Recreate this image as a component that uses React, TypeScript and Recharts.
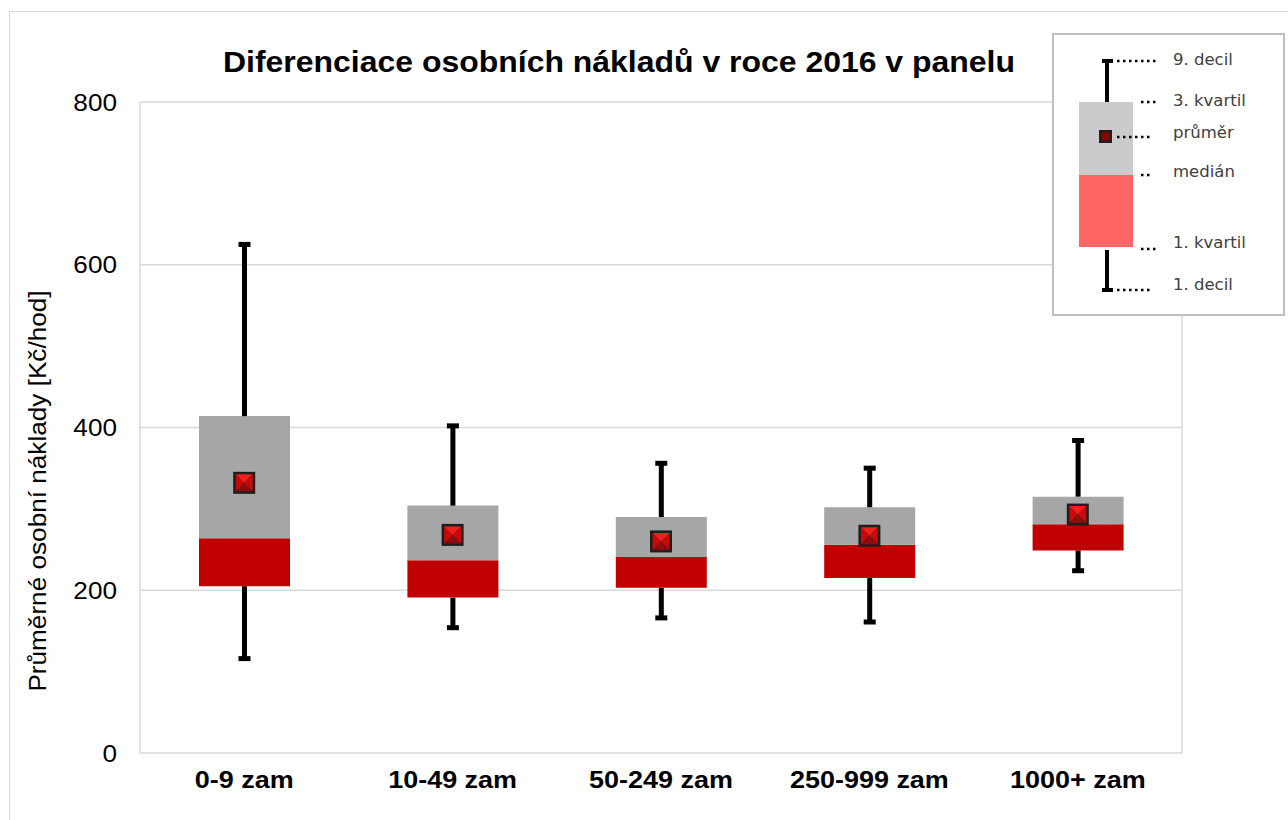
import React from "react";
import { ComposedChart, Bar, Scatter, XAxis, YAxis, CartesianGrid } from "recharts";

const categories = ["0-9 zam", "10-49 zam", "50-249 zam", "250-999 zam", "1000+ zam"];
const decil1 = [116, 154, 166, 161, 224];
const kvartil1 = [205, 191, 203, 215, 249];
const median = [264, 237, 241, 256, 281];
const kvartil3 = [414, 304, 290, 302, 315];
const decil9 = [625, 402, 356, 350, 384];
const mean = [332, 268, 260, 267, 293];
const yTicks = [0, 200, 400, 600, 800];

const FONT = '"Liberation Sans", Arial, sans-serif';
const LEGEND_FONT = '"DejaVu Sans", sans-serif';

// stacked segments: base -> lower whisker -> red box -> grey box -> upper whisker
const data = categories.map((name, i) => ({
  name,
  base: decil1[i],
  lowW: kvartil1[i] - decil1[i],
  lowBox: median[i] - kvartil1[i],
  highBox: kvartil3[i] - median[i],
  highW: decil9[i] - kvartil3[i],
  mean: mean[i],
}));

const UpperWhisker = (p: any) => {
  const cx = p.x + p.width / 2;
  return (
    <g>
      <rect x={cx - 2.5} y={p.y} width={5} height={p.height} fill="#000" />
      <rect x={cx - 6} y={p.y - 2.5} width={12} height={5} fill="#000" />
    </g>
  );
};

const LowerWhisker = (p: any) => {
  const cx = p.x + p.width / 2;
  return (
    <g>
      <rect x={cx - 2.5} y={p.y} width={5} height={p.height} fill="#000" />
      <rect x={cx - 6} y={p.y + p.height - 2.5} width={12} height={5} fill="#000" />
    </g>
  );
};

const MeanMarker = (p: any) => {
  const { cx, cy } = p;
  const s = 8.5;
  return (
    <g>
      <rect x={cx - 11} y={cy - 11} width={22} height={22} fill="#1e1e1e" />
      <polygon points={`${cx - s},${cy - s} ${cx + s},${cy - s} ${cx},${cy}`} fill="#f0201c" />
      <polygon points={`${cx - s},${cy - s} ${cx},${cy} ${cx - s},${cy + s}`} fill="#c80a0a" />
      <polygon points={`${cx + s},${cy - s} ${cx},${cy} ${cx + s},${cy + s}`} fill="#c80a0a" />
      <polygon points={`${cx - s},${cy + s} ${cx + s},${cy + s} ${cx},${cy}`} fill="#8e0c0c" />
    </g>
  );
};

const XTick = (p: any) => (
  <g transform={`translate(${p.x},${p.y})`}>
    <text transform="scale(1.1,1)" textAnchor="middle" dy="0.71em" fontSize={24.5} fontWeight="bold" fill="#000" fontFamily={FONT}>
      {p.payload.value}
    </text>
  </g>
);

const YTick = (p: any) => (
  <g transform={`translate(${p.x},${p.y})`}>
    <text transform="scale(1.09,1)" textAnchor="end" dy="0.355em" fontSize={24} fill="#000" fontFamily={FONT}>
      {p.payload.value}
    </text>
  </g>
);

const legendRows = [
  { label: "9. decil", y: 65, dotY: 61, x1: 1117, x2: 1158 },
  { label: "3. kvartil", y: 106, dotY: 102, x1: 1141, x2: 1157 },
  { label: "průměr", y: 138, dotY: 137, x1: 1117, x2: 1152 },
  { label: "medián", y: 177, dotY: 175, x1: 1141, x2: 1152 },
  { label: "1. kvartil", y: 248, dotY: 249, x1: 1141, x2: 1156 },
  { label: "1. decil", y: 290, dotY: 290, x1: 1117, x2: 1152 },
];

export default function App() {
  return (
    <div style={{ position: "absolute", left: 0, top: 0, width: 1288, height: 820, overflow: "hidden", background: "#fff" }}>
      <div style={{ position: "absolute", left: 9, top: 11, width: 1400, height: 1000, border: "1px solid #d9d9d9" }} />
      <div style={{ position: "absolute", left: 0, top: 0 }}>
        <ComposedChart width={1288} height={820} data={data} margin={{ top: 102, right: 106, bottom: 27, left: 0 }}>
          <CartesianGrid
            stroke="#d9d9d9"
            strokeWidth={1.5}
            verticalCoordinatesGenerator={(args: any) => (args && args.offset ? [args.offset.left, args.offset.left + args.offset.width] : [])}
          />
          <XAxis dataKey="name" axisLine={false} tickLine={false} tickSize={0} tickMargin={18} height={40} tick={<XTick />} interval={0} />
          <YAxis
            domain={[0, 800]}
            ticks={yTicks}
            width={140}
            axisLine={false}
            tickLine={false}
            tickSize={0}
            tickMargin={23}
            tick={<YTick />}
          />
          <Bar dataKey="base" stackId="a" barSize={91} fill="#fff" fillOpacity={0} isAnimationActive={false} />
          <Bar dataKey="lowW" stackId="a" barSize={91} shape={LowerWhisker} isAnimationActive={false} />
          <Bar dataKey="lowBox" stackId="a" barSize={91} fill="#c00000" isAnimationActive={false} />
          <Bar dataKey="highBox" stackId="a" barSize={91} fill="#a6a6a6" isAnimationActive={false} />
          <Bar dataKey="highW" stackId="a" barSize={91} shape={UpperWhisker} isAnimationActive={false} />
          <Scatter dataKey="mean" shape={MeanMarker} isAnimationActive={false} />
        </ComposedChart>
      </div>
      <svg width={1288} height={820} style={{ position: "absolute", left: 0, top: 0, pointerEvents: "none" }}>
        <text x={619} y={72} textAnchor="middle" fontSize={30} fontWeight="bold" fontFamily={FONT} fill="#000" textLength={792} lengthAdjust="spacingAndGlyphs">
          Diferenciace osobních nákladů v roce 2016 v panelu
        </text>
        <text transform="translate(46,491) rotate(-90) scale(1.09,1)" textAnchor="middle" fontSize={24} fontFamily={FONT} fill="#000">
          Průměrné osobní náklady [Kč/hod]
        </text>
        <g>
          <rect x={1053} y={34} width={231} height={281} fill="#fff" stroke="#bfbfbf" strokeWidth={2} />
          <rect x={1105} y={61} width={4} height={41} fill="#000" />
          <rect x={1102} y={59} width={11} height={4} fill="#000" />
          <rect x={1079} y={102} width={54} height={73} fill="#cbcbcb" />
          <rect x={1079} y={175} width={54} height={72} fill="#ff6666" />
          <rect x={1105} y={250} width={4} height={40} fill="#000" />
          <rect x={1102} y={288} width={11} height={4} fill="#000" />
          <rect x={1099} y={130} width={13} height={13} fill="#1e1e1e" />
          <rect x={1101.5} y={132.5} width={8} height={8} fill="#8a0000" />
          {legendRows.map((r) => (
            <g key={r.label}>
              <line x1={r.x1} x2={r.x2} y1={r.dotY} y2={r.dotY} stroke="#000" strokeWidth={2.5} strokeDasharray="2.5 3.5" />
              <text x={1173} y={r.y} fontSize={16.5} fontFamily={LEGEND_FONT} fill="#404040">
                {r.label}
              </text>
            </g>
          ))}
        </g>
      </svg>
    </div>
  );
}
